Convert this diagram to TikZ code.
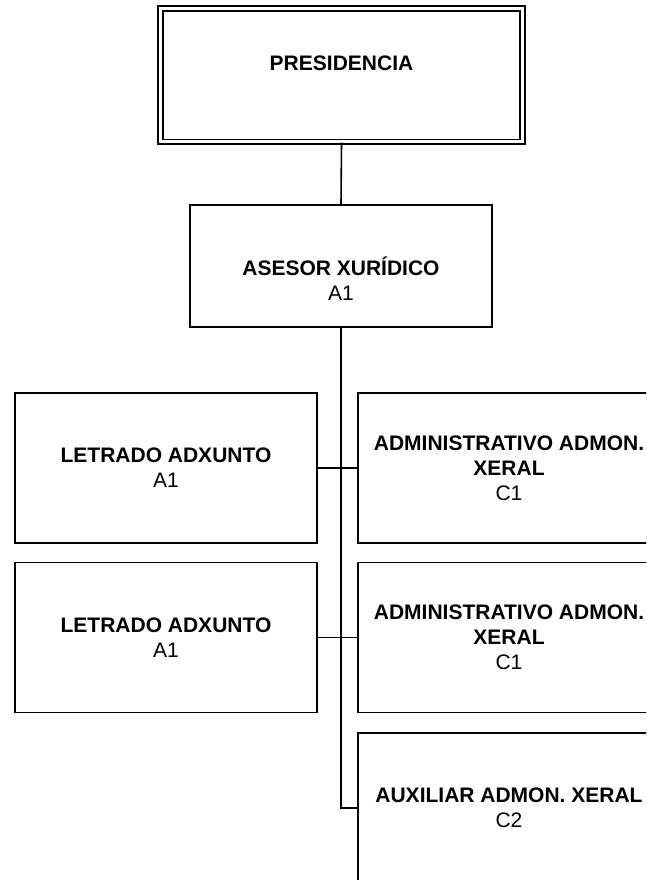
\documentclass[tikz,border=0pt]{standalone}
\usepackage{fontspec}
\setmainfont{Liberation Sans}
\begin{document}
\begin{tikzpicture}[x=.75pt,y=.75pt,line width=1.2pt,
  cargo/.style={draw,fill=white,inner sep=0pt,align=center,
    minimum width=226.5pt,minimum height=112.5pt,
    font=\fontsize{15.75pt}{18.75pt}\selectfont},
  titulo/.style={font=\bfseries}]
\clip (0,0) rectangle (646,880);
\useasboundingbox (0,0) rectangle (646,880);
% presidencia e asesor
\node[cargo,double,double distance=2.25pt,minimum width=271.5pt,minimum height=100.1pt]
  (pres) at (341.5,804.8) {\textbf{PRESIDENCIA}\\ \mbox{}};
\node[cargo,minimum height=91.5pt] (ases) at (341,614) {\strut\\ \textbf{ASESOR XURÍDICO}\\ A1};
% letrados
\node[cargo] (let1) at (166,412) {\textbf{LETRADO ADXUNTO}\\ A1};
\node[cargo] (let2) at (166,242.5) {\textbf{LETRADO ADXUNTO}\\ A1};
% persoal administrativo
\node[cargo] (adm1) at (509,412) {\textbf{ADMINISTRATIVO ADMON.}\\ \textbf{XERAL}\\ C1};
\node[cargo] (adm2) at (509,242.5) {\textbf{ADMINISTRATIVO ADMON.}\\ \textbf{XERAL}\\ C1};
\node[cargo] (aux) at (509,72) {\textbf{AUXILIAR ADMON. XERAL}\\ C2};
% conexions
\draw (pres.south)--(ases.north);
\draw (ases.south)--(ases.south |- aux.west)--(aux.west);
\foreach \n in {let1,let2}\draw (\n.east)--(\n.east -| ases.south);
\foreach \n in {adm1,adm2}\draw (\n.west)--(\n.west -| ases.south);
\end{tikzpicture}
\end{document}
